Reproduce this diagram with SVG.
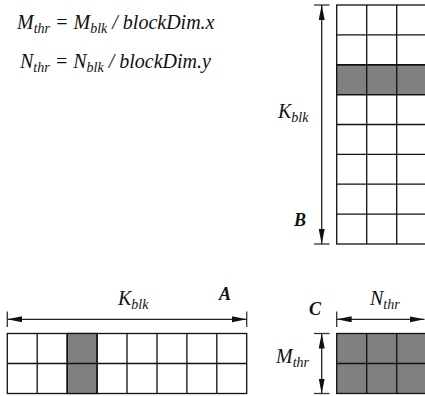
<svg xmlns="http://www.w3.org/2000/svg" width="425" height="396" viewBox="0 0 425 396">
<style>
text{font-family:"Liberation Serif","DejaVu Serif",serif;font-style:italic;fill:#111}
.lbl{font-size:20px}
.sub{font-size:14px}
.bold{font-weight:bold;font-size:18px}
.cell{fill:#fff;stroke:#111;stroke-width:1.3}
.sh{fill:#808080;stroke:#111;stroke-width:1.3}
.grid{stroke:#111;stroke-width:1.3;fill:none}
.dim{stroke:#222;stroke-width:1.3;fill:none}
.tick{stroke:#333;stroke-width:1.3}
</style>
<defs>
<marker id="ah" markerUnits="userSpaceOnUse" markerWidth="16" markerHeight="8" refX="15" refY="3" orient="auto-start-reverse">
<path d="M0,0 L15,3 L0,6 z" fill="#111"/>
</marker>
</defs>

<g id="formulas">
<text class="lbl" x="17" y="29">M<tspan class="sub" dy="4">thr</tspan><tspan dy="-4"> = M</tspan><tspan class="sub" dy="4">blk</tspan><tspan dy="-4"> / blockDim.x</tspan></text>
<text class="lbl" x="20" y="68">N<tspan class="sub" dy="4">thr</tspan><tspan dy="-4"> = N</tspan><tspan class="sub" dy="4">blk</tspan><tspan dy="-4"> / blockDim.y</tspan></text>
</g>

<g id="matrixB">
<rect class="cell" x="336.7" y="5" width="90" height="239"/>
<rect class="sh" x="336.7" y="64.75" width="90" height="29.9"/>
<path class="grid" d="M366.7,5V244M396.7,5V244M336.7,34.9H426.7M336.7,64.75H426.7M336.7,94.6H426.7M336.7,124.5H426.7M336.7,154.4H426.7M336.7,184.2H426.7M336.7,214.1H426.7"/>
<text class="lbl" x="278" y="118">K<tspan class="sub" dy="4">blk</tspan></text>
<text class="bold" x="294" y="226">B</text>
</g>

<g id="matrixA">
<rect class="cell" x="7.3" y="333.5" width="239.4" height="60"/>
<rect class="sh" x="67.2" y="333.5" width="29.9" height="60"/>
<path class="grid" d="M37.2,333.5V393.5M67.2,333.5V393.5M97.1,333.5V393.5M127,333.5V393.5M157,333.5V393.5M186.9,333.5V393.5M216.8,333.5V393.5M7.3,363.5H246.7"/>
<text class="lbl" x="118" y="305">K<tspan class="sub" dy="4">blk</tspan></text>
<text class="bold" x="219" y="300">A</text>
</g>

<g id="matrixC">
<rect class="sh" x="336.7" y="333.5" width="90" height="60"/>
<path class="grid" d="M366.7,333.5V393.5M396.7,333.5V393.5M336.7,363.5H426.7"/>
<text class="lbl" x="370" y="305">N<tspan class="sub" dy="4">thr</tspan></text>
<text class="bold" x="309" y="315">C</text>
<text class="lbl" x="276" y="363">M<tspan class="sub" dy="4">thr</tspan></text>
</g>

<g id="connectors">
<line class="tick" x1="314" y1="5" x2="329.5" y2="5"/>
<line class="tick" x1="314" y1="244" x2="329.5" y2="244"/>
<line class="dim" x1="321.7" y1="5" x2="321.7" y2="244" marker-start="url(#ah)" marker-end="url(#ah)"/>

<line class="tick" x1="7.3" y1="311.5" x2="7.3" y2="327"/>
<line class="tick" x1="246.7" y1="311.5" x2="246.7" y2="327"/>
<line class="dim" x1="7.3" y1="319.3" x2="246.7" y2="319.3" marker-start="url(#ah)" marker-end="url(#ah)"/>

<line class="tick" x1="336.7" y1="311.5" x2="336.7" y2="327"/>
<line class="dim" x1="336.7" y1="319.3" x2="424.5" y2="319.3" marker-start="url(#ah)" marker-end="url(#ah)"/>

<line class="tick" x1="314" y1="333.5" x2="329.5" y2="333.5"/>
<line class="tick" x1="314" y1="393.5" x2="329.5" y2="393.5"/>
<line class="dim" x1="321.7" y1="333.5" x2="321.7" y2="393.5" marker-start="url(#ah)" marker-end="url(#ah)"/>
</g>
</svg>
